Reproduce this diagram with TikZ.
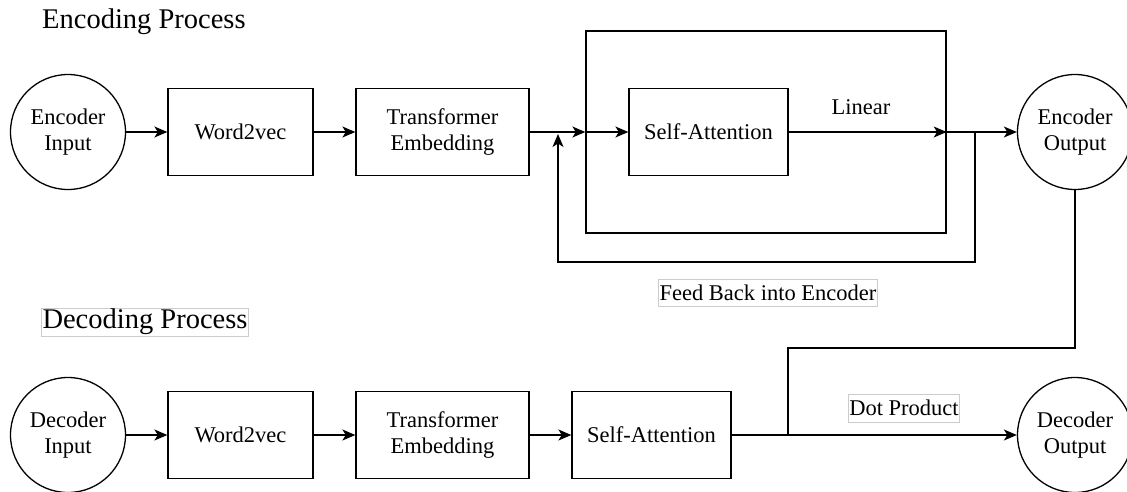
\documentclass[tikz,border=0pt]{standalone}
\usepackage{fontspec}
\setmainfont{Liberation Serif}
\usetikzlibrary{arrows.meta}
\begin{document}
\begin{tikzpicture}[x=1pt,y=-1pt,
  every node/.style={font=\fontsize{22.5}{26}\selectfont},
  link/.style={line width=1.3pt},
  arr/.style={link, -{Stealth[length=13pt,width=11pt,inset=3.5pt]}},
  box/.style={draw, line width=1.3pt, minimum height=87pt, inner sep=0pt, align=center},
  disc/.style={draw, circle, line width=1.3pt, minimum size=115pt, inner sep=0pt, align=center},
  frame/.style={draw, line width=1.3pt, minimum width=360pt, minimum height=202pt, inner sep=0pt},
  tag/.style={draw=black!20, line width=0.8pt, inner xsep=1pt, inner ysep=0pt, minimum height=27pt},
  heading/.style={font=\fontsize{28.5}{32}\selectfont, inner sep=0pt},
]
\useasboundingbox (0,0) rectangle (1127,491);

% ---- encoder row ----
\node[heading, anchor=base west] (enctitle) at (42,28) {Encoding Process};
\node[disc] (ei) at (68,132) {Encoder\\Input};
\node[box, minimum width=145pt] (ew) at (240.5,132) {Word2vec};
\node[box, minimum width=173pt] (et) at (442.5,132) {Transformer\\Embedding};
\node[frame] (outer) at (766,132) {};
\node[box, minimum width=159pt] (esa) at (708.5,132) {Self-Attention};
\node (lin) at (861,107) {Linear};
\node[disc] (eo) at (1075,132) {Encoder\\Output};

\draw[arr] (ei) -- (ew);
\draw[arr] (ew) -- (et);
\draw[arr] (et.east) -- (outer.west);
\draw[arr] (outer.west) -- (esa.west);
\draw[arr] (esa.east) -- (outer.east);
\draw[arr] (outer.east) -- (eo.west);

% feedback loop
\coordinate (fbr) at (975,132);
\coordinate (fbrb) at (975,262);
\coordinate (fblb) at (558,262);
\coordinate (fbin) at (558,134);
\draw[arr] (fbr) -- (fbrb) -- (fblb) -- (fbin);
\node[tag] (fbl) at (768,293) {Feed Back into Encoder};

% ---- decoder row ----
\node[heading, tag, minimum height=28pt] (dectitle) at (145,322) {Decoding Process};
\node[disc] (di) at (68,435) {Decoder\\Input};
\node[box, minimum width=145pt] (dw) at (240.5,435) {Word2vec};
\node[box, minimum width=173pt] (dt) at (442.5,435) {Transformer\\Embedding};
\node[box, minimum width=159pt] (dsa) at (651.5,435) {Self-Attention};
\node[disc] (do) at (1075,435) {Decoder\\Output};

\draw[arr] (di) -- (dw);
\draw[arr] (dw) -- (dt);
\draw[arr] (dt) -- (dsa);
\draw[arr] (dsa.east) -- (do.west);
\node[tag, minimum height=28pt] (dp) at (904,408) {Dot Product};

% encoder output joins the decoder line
\coordinate (djt) at (788,348);
\coordinate (dj) at (788,435);
\draw[link] (eo.south) |- (djt) -- (dj);
\end{tikzpicture}
\end{document}
